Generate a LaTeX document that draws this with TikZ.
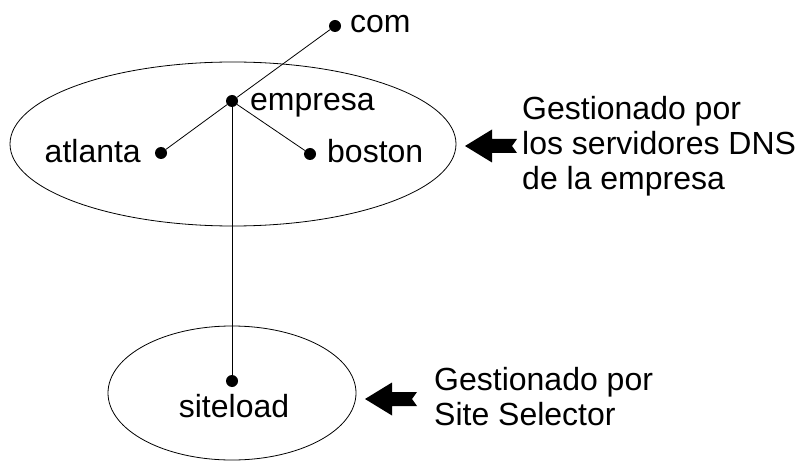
\documentclass[tikz,border=0pt]{standalone}
\usepackage{fontspec}
\setmainfont{Liberation Sans}

\newcommand{\blockarrow}[1]{%
  \fill (#1) -- ++(27,-16.5) -- ++(0,9.5) -- ++(25,0) -- ++(-5,7)
        -- ++(5,7) -- ++(-25,0) -- ++(0,9.5) -- cycle;}

\begin{document}
\begin{tikzpicture}[x=1pt,y=-1pt,
    font=\fontsize{32}{35}\selectfont,
    zone/.style={draw,line width=0.8pt},
    lbl/.style={inner sep=0pt,anchor=base west,align=left}]
  \useasboundingbox (0,0) rectangle (810,462);

  % zones
  \draw[zone] (233,144) ellipse [x radius=223, y radius=82];
  \draw[zone] (232,393) ellipse [x radius=124, y radius=67];

  % dots of the tree
  \begin{scope}[every node/.style={circle,fill,inner sep=0pt,minimum size=12pt}]
    \node (com)      at (335,26)  {};
    \node (empresa)  at (232,101) {};
    \node (atlanta)  at (161,153) {};
    \node (boston)   at (310,154) {};
    \node (siteload) at (232,381) {};
  \end{scope}

  \begin{scope}[line width=0.8pt]
    \draw (com) -- (empresa);
    \draw (empresa) -- (atlanta);
    \draw (empresa) -- (boston);
    \draw (empresa) -- (siteload);
  \end{scope}

  % names
  \node[lbl] (tcom)      at (350,33)  {com};
  \node[lbl] (tempresa)  at (250,111) {empresa};
  \node[lbl] (tboston)   at (327,163) {boston};
  \node[lbl,anchor=base east] (tatlanta) at (141,163) {atlanta};
  \node[lbl,anchor=base] (tsiteload) at (234,417) {siteload};

  % who manages what
  \coordinate (tipdns)  at (465,146);
  \coordinate (tipsite) at (365,399);
  \blockarrow{tipdns}
  \blockarrow{tipsite}
  \node[lbl] (gdns)  at (522,190) {Gestionado por\\los servidores DNS\\de la empresa};
  \node[lbl] (gsite) at (434,425) {Gestionado por\\Site Selector};

\end{tikzpicture}
\end{document}
